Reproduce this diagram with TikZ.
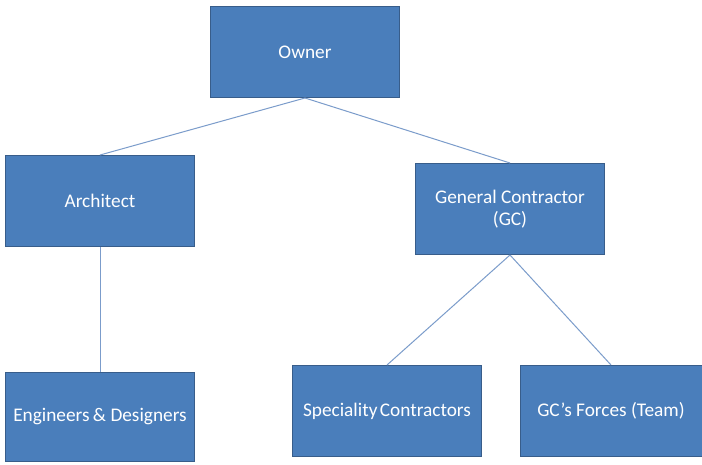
\documentclass[tikz,border=0pt]{standalone}
\usepackage{fontspec}
\setmainfont{Carlito}
\definecolor{boxfill}{HTML}{4A7EBB}
\definecolor{boxedge}{HTML}{385D8A}
\definecolor{linkline}{HTML}{7B9CCB}
\tikzset{
  orgbox/.style={draw=boxedge, line width=1pt, fill=boxfill, text=white,
    font=\fontsize{19.3}{22.5}\selectfont, align=center, inner sep=0pt},
  link/.style={draw=linkline, line width=1pt}
}
\begin{document}
\begin{tikzpicture}[x=1pt, y=-1pt]
  \useasboundingbox[fill=white] (0,0) rectangle (702,465);
  % boxes, placed by their centres
  \node[orgbox, minimum width=189pt, minimum height=91pt] (owner) at (305,52) {Owner};
  \node[orgbox, minimum width=189pt, minimum height=91pt] (arch) at (100,201) {Architect};
  \node[orgbox, minimum width=189pt, minimum height=91pt] (gc) at (510,209) {General Contractor\\(GC)};
  \node[orgbox, minimum width=189pt, minimum height=89pt] (eng) at (100,417) {Engineers\kern-1pt\ \&\ Designers};
  \node[orgbox, minimum width=189pt, minimum height=91pt] (spec) at (387,411) {Speciality\kern-2pt\ Contractors};
  \node[orgbox, minimum width=182pt, minimum height=91pt] (forces) at (611,411) {GC’s Forces (Team)};
  % connectors
  \draw[link] (owner.south) -- (arch.north);
  \draw[link] (owner.south) -- (gc.north);
  \draw[link] (arch.south) -- (eng.north);
  \draw[link] (gc.south) -- (spec.north);
  \draw[link] (gc.south) -- (forces.north);
\end{tikzpicture}
\end{document}
